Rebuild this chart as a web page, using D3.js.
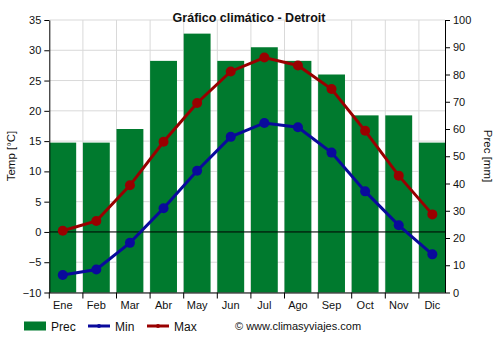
<!DOCTYPE html>
<html>
<head>
<meta charset="utf-8">
<script src="https://cdn.jsdelivr.net/npm/d3@7"></script>
<style>
  body { margin: 0; background: #fff; }
  svg { display: block; font-family: "Liberation Sans", Arial, sans-serif; }
</style>
</head>
<body>
<svg id="chart" width="500" height="350"></svg>
<script>
// Monthly climate for Detroit
const months = ["Ene", "Feb", "Mar", "Abr", "May", "Jun", "Jul", "Ago", "Sep", "Oct", "Nov", "Dic"];
const prec = [55, 55, 60, 85, 95, 85, 90, 85, 80, 65, 65, 55];
const tmin = [-7.1, -6.2, -1.8, 3.9, 10.1, 15.7, 18.0, 17.3, 13.1, 6.7, 1.1, -3.7];
const tmax = [0.2, 1.8, 7.7, 14.9, 21.3, 26.5, 28.8, 27.5, 23.6, 16.7, 9.3, 2.9];
const tempTicks = [-10, -5, 0, 5, 10, 15, 20, 25, 30, 35];
const precTicks = [0, 10, 20, 30, 40, 50, 60, 70, 80, 90, 100];

const svg = d3.select("#chart");
const pLeft = 49.3, pRight = 445, pTop = 20, pBottom = 292.5;
const step = 33.6;

const x = d3.scaleBand().domain(months).range([pLeft, pLeft + step * months.length]).padding(0);
const yT = d3.scaleLinear().domain([-10, 35]).range([pBottom, pTop]);
const yP = d3.scaleLinear().domain([0, 100]).range([pBottom, pTop]);
const barW = x.bandwidth() * 0.8;
const cx = m => x(m) + barW / 2;

svg.append("defs").append("clipPath").attr("id", "plot")
  .append("rect").attr("x", pLeft).attr("y", pTop - 6).attr("width", pRight - pLeft).attr("height", pBottom - pTop + 12);

const plot = svg.append("g").attr("clip-path", "url(#plot)");

// grid
plot.append("g").selectAll("line").data(tempTicks).join("line")
  .attr("x1", pLeft).attr("x2", pRight)
  .attr("y1", d => yT(d)).attr("y2", d => yT(d))
  .attr("stroke", "#d9d9d9").attr("stroke-width", 1);
plot.append("g").selectAll("line").data(months.slice(1)).join("line")
  .attr("x1", d => x(d)).attr("x2", d => x(d))
  .attr("y1", pTop).attr("y2", pBottom)
  .attr("stroke", "#d9d9d9").attr("stroke-width", 1);

// precipitation bars
plot.append("g").selectAll("rect").data(months).join("rect")
  .attr("x", d => x(d))
  .attr("width", barW)
  .attr("y", (d, i) => yP(prec[i]))
  .attr("height", (d, i) => pBottom - yP(prec[i]))
  .attr("fill", "#007a2e");

// zero line
plot.append("line").attr("x1", pLeft).attr("x2", pRight)
  .attr("y1", yT(0)).attr("y2", yT(0)).attr("stroke", "#000").attr("stroke-width", 1);

// temperature lines
const line = d3.line().x((d, i) => cx(months[i])).y(d => yT(d));
function series(vals, color) {
  plot.append("path").datum(vals).attr("d", line)
    .attr("fill", "none").attr("stroke", color).attr("stroke-width", 3);
  plot.append("g").selectAll("circle").data(vals).join("circle")
    .attr("cx", (d, i) => cx(months[i])).attr("cy", d => yT(d))
    .attr("r", 5).attr("fill", color);
}
series(tmin, "#0a0a9c");
series(tmax, "#990000");

// axes
const axL = svg.append("g").attr("transform", `translate(${pLeft},0)`)
  .call(d3.axisLeft(yT).tickValues(tempTicks).tickSize(5).tickSizeOuter(0));
const axR = svg.append("g").attr("transform", `translate(${pRight},0)`)
  .call(d3.axisRight(yP).tickValues(precTicks).tickSize(5).tickSizeOuter(0));
const axB = svg.append("g").attr("transform", `translate(0,${pBottom})`)
  .call(d3.axisBottom(x).tickSize(0).tickSizeOuter(0));
axB.select(".domain").attr("d", `M${pLeft},0.5H${pRight}`);
axB.selectAll(".tick").attr("transform", d => `translate(${cx(d)},0)`);
axB.selectAll(".tick text").attr("dy", "0").attr("y", 16);
svg.append("g").selectAll("line").data(months).join("line")
  .attr("x1", d => x(d)).attr("x2", d => x(d))
  .attr("y1", pBottom).attr("y2", pBottom + 6)
  .attr("stroke", "#000");

[axL, axR, axB].forEach(a => {
  a.selectAll("text").attr("font-size", 11).attr("fill", "#111").attr("font-family", "Liberation Sans, Arial, sans-serif");
  a.select(".domain").attr("stroke", "#000");
  a.selectAll(".tick line").attr("stroke", "#000");
});

// titles
svg.append("text").attr("x", 249).attr("y", 22).attr("text-anchor", "middle")
  .attr("font-size", 12.5).attr("font-weight", "bold").attr("fill", "#111")
  .text("Gráfico climático - Detroit");
svg.append("text").attr("transform", "translate(15,156) rotate(-90)").attr("text-anchor", "middle")
  .attr("font-size", 11.5).attr("fill", "#111").text("Temp [°C]");
svg.append("text").attr("transform", "translate(484,156) rotate(90)").attr("text-anchor", "middle")
  .attr("font-size", 11.5).attr("fill", "#111").text("Prec [mm]");

// legend
const lg = svg.append("g").attr("font-size", 12).attr("fill", "#111");
lg.append("rect").attr("x", 24).attr("y", 321.5).attr("width", 22).attr("height", 9).attr("fill", "#007a2e");
lg.append("text").attr("x", 51).attr("y", 330.5).text("Prec");
[[88, "#0a0a9c", "Min"], [147, "#990000", "Max"]].forEach(([lx, c, t]) => {
  lg.append("line").attr("x1", lx).attr("x2", lx + 22).attr("y1", 326).attr("y2", 326)
    .attr("stroke", c).attr("stroke-width", 3);
  lg.append("circle").attr("cx", lx + 11).attr("cy", 326).attr("r", 2).attr("fill", c);
  lg.append("text").attr("x", lx + 27).attr("y", 330.5).text(t);
});
svg.append("text").attr("x", 235).attr("y", 330).attr("font-size", 11).attr("fill", "#111")
  .text("© www.climasyviajes.com");
</script>
</body>
</html>
